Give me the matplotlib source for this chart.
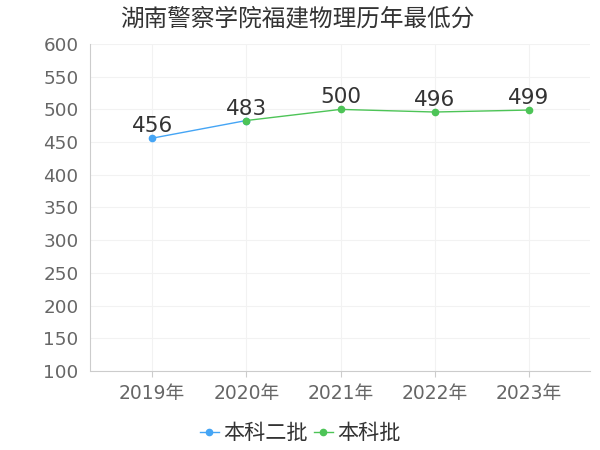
import matplotlib
matplotlib.use("Agg")
import matplotlib.pyplot as plt

plt.rcParams['font.family'] = ['DejaVu Sans', 'Noto Sans CJK SC']

years = ["2019年", "2020年", "2021年", "2022年", "2023年"]
ben2_x = [0, 1]
ben2_vals = [456, 483]
ben_x = [1, 2, 3, 4]
ben_vals = [483, 500, 496, 499]

BLUE = "#45a5f5"
GREEN = "#4dc457"

fig = plt.figure(figsize=(6, 4.5), dpi=100)
ax = fig.add_axes([91 / 600, 1 - 371 / 450, 499 / 600, 327 / 450])

ax.plot(ben2_x, ben2_vals, color=BLUE, lw=1, marker="o", ms=4.5, label="本科二批", zorder=3)
ax.plot(ben_x, ben_vals, color=GREEN, lw=1, marker="o", ms=4.5, label="本科批", zorder=4)

# one label per point, later series wins on shared years
labels = {}
for x, v in zip(ben2_x, ben2_vals):
    labels[x] = v
for x, v in zip(ben_x, ben_vals):
    labels[x] = v
for x, v in labels.items():
    ax.text(x, v + 3, str(v), ha="center", va="bottom", fontsize=15.5,
            color="#333333", zorder=5)

ax.set_xlim(-0.65, 4.65)
ax.set_ylim(100, 600)
ax.set_yticks(range(100, 601, 50))
ax.set_xticks(range(len(years)))
ax.set_xticklabels(years)

ax.grid(True, color="#f2f2f2", lw=0.8)
ax.set_axisbelow(True)
for s in ["top", "right"]:
    ax.spines[s].set_visible(False)
ax.spines["left"].set_color("#cccccc")
ax.spines["bottom"].set_color("#cccccc")
ax.spines["left"].set_position(("outward", 1))
ax.tick_params(axis="y", length=0, pad=8, labelsize=13.2, labelcolor="#666666")
ax.tick_params(axis="x", length=4, color="#cccccc", pad=5, labelsize=13.5, labelcolor="#666666")

fig.text(120 / 600, 1 - 19 / 450, "湖南警察学院福建物理历年最低分", fontsize=17,
         color="#333333", va="center", ha="left", family=["Noto Sans CJK SC"])

fig.legend(loc="center", bbox_to_anchor=(0.5, 1 - 433 / 450), ncol=2,
           frameon=False, prop={"family": ["Noto Sans CJK SC"], "size": 15.2},
           handlelength=0.9, handletextpad=0.2, columnspacing=0.3,
           labelcolor="#333333", borderpad=0)

fig.savefig("out.png", dpi=100)
